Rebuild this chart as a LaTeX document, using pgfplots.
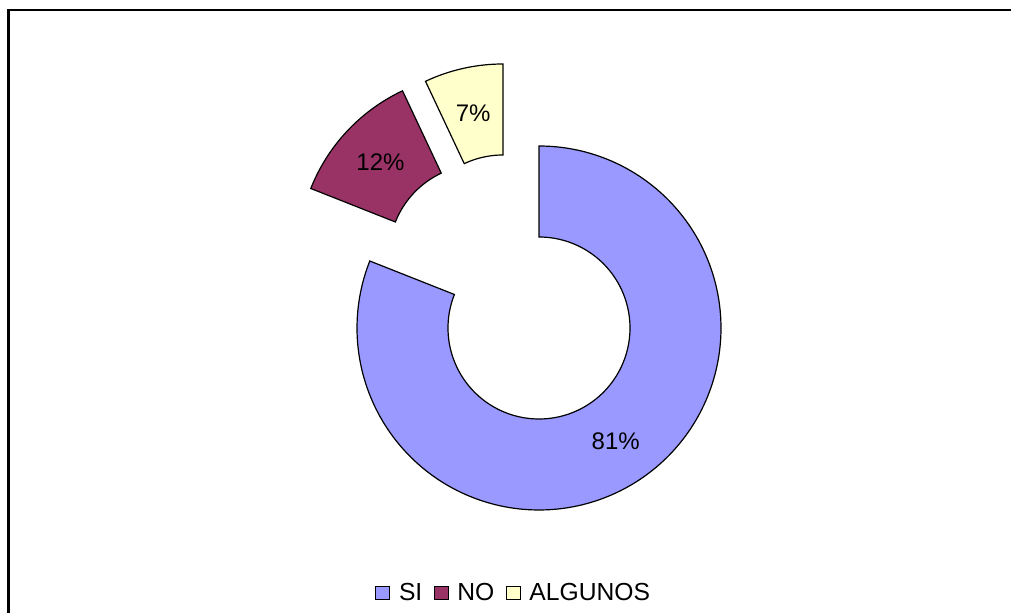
\documentclass[border=0pt]{standalone}
\usepackage{pgfplots}
\pgfplotsset{compat=1.18}
\usepackage{pgfplotstable}
\usepackage{fontspec}
\setmainfont{Liberation Sans}
\definecolor{siC}{HTML}{9999FF}
\definecolor{noC}{HTML}{993366}
\definecolor{alC}{HTML}{FFFFCC}

% values (percent)
\def\vSI{81}
\def\vNO{12}
\def\vAL{7}
% radii (pixel units)
\def\Rout{182}
\def\Rin{91}
% segment centres (exploded segments shifted)
\def\cxSI{539}\def\cySI{285}
\def\cxNO{480}\def\cyNO{357.5}
\def\cxAL{503}\def\cyAL{367}

\pgfmathsetmacro{\aSIa}{90}
\pgfmathsetmacro{\aSIb}{90-3.6*\vSI}
\pgfmathsetmacro{\aNOa}{\aSIb+360}
\pgfmathsetmacro{\aNOb}{\aNOa-3.6*\vNO}
\pgfmathsetmacro{\aALa}{\aNOb}
\pgfmathsetmacro{\aALb}{\aALa-3.6*\vAL}
\pgfmathsetmacro{\rm}{(\Rout+\Rin)/2}
\pgfmathsetmacro{\lxSI}{\cxSI+\rm*cos((\aSIa+\aSIb)/2)}
\pgfmathsetmacro{\lySI}{\cySI+\rm*sin((\aSIa+\aSIb)/2)}
\pgfmathsetmacro{\lxNO}{\cxNO+\rm*cos((\aNOa+\aNOb)/2)}
\pgfmathsetmacro{\lyNO}{\cyNO+\rm*sin((\aNOa+\aNOb)/2)}
\pgfmathsetmacro{\lxAL}{\cxAL+\rm*cos((\aALa+\aALb)/2)}
\pgfmathsetmacro{\lyAL}{\cyAL+\rm*sin((\aALa+\aALb)/2)}

\begin{document}
\begin{tikzpicture}
\begin{axis}[
  x=0.75pt, y=0.75pt,
  xmin=0, xmax=1011, ymin=0, ymax=613,
  hide axis,
  declare function={
    rang(\t,\a,\b)=(\t<1.005)*(\a+(\b-\a)*min(\t,1)) + (\t>=1.005)*(\b-(\b-\a)*min(1,max(0,(\t-1.01)/0.99)));
    rrad(\t)=(\t<1.005)*\Rout+(\t>=1.005)*\Rin;
  },
  legend columns=3,
  legend style={at={(axis cs:514,20)}, anchor=center, draw=none, fill=none,
    font=\fontsize{18.5}{22}\selectfont, inner sep=0pt,
    /tikz/every odd column/.append style={column sep=4.5pt},
    /tikz/every even column/.append style={column sep=6.5pt}},
  legend image code/.code={\draw[#1,line width=0.8pt] (0pt,-5pt) rectangle (10.5pt,5pt);},
]
\fill[white] (axis cs:0,0) rectangle (axis cs:1011,613);
\draw[line width=1.6pt] (axis cs:8.5,-5) -- (axis cs:8.5,603) -- (axis cs:1020,603);

\addplot[fill=siC, draw=black, line width=0.9pt, domain=0:2, samples=401, variable=\t]
  ({\cxSI+rrad(\t)*cos(rang(\t,\aSIa,\aSIb))},{\cySI+rrad(\t)*sin(rang(\t,\aSIa,\aSIb))}) -- cycle;
\addlegendentry{SI}
\addplot[fill=noC, draw=black, line width=0.9pt, domain=0:2, samples=201, variable=\t]
  ({\cxNO+rrad(\t)*cos(rang(\t,\aNOa,\aNOb))},{\cyNO+rrad(\t)*sin(rang(\t,\aNOa,\aNOb))}) -- cycle;
\addlegendentry{NO}
\addplot[fill=alC, draw=black, line width=0.9pt, domain=0:2, samples=201, variable=\t]
  ({\cxAL+rrad(\t)*cos(rang(\t,\aALa,\aALb))},{\cyAL+rrad(\t)*sin(rang(\t,\aALa,\aALb))}) -- cycle;
\addlegendentry{ALGUNOS}

\node[font=\fontsize{18}{21}\selectfont] at (axis cs:\lxSI,\lySI) {81\%};
\node[font=\fontsize{18}{21}\selectfont] at (axis cs:\lxNO,\lyNO) {12\%};
\node[font=\fontsize{18}{21}\selectfont] at (axis cs:\lxAL,\lyAL) {7\%};
\end{axis}
\end{tikzpicture}
\end{document}
